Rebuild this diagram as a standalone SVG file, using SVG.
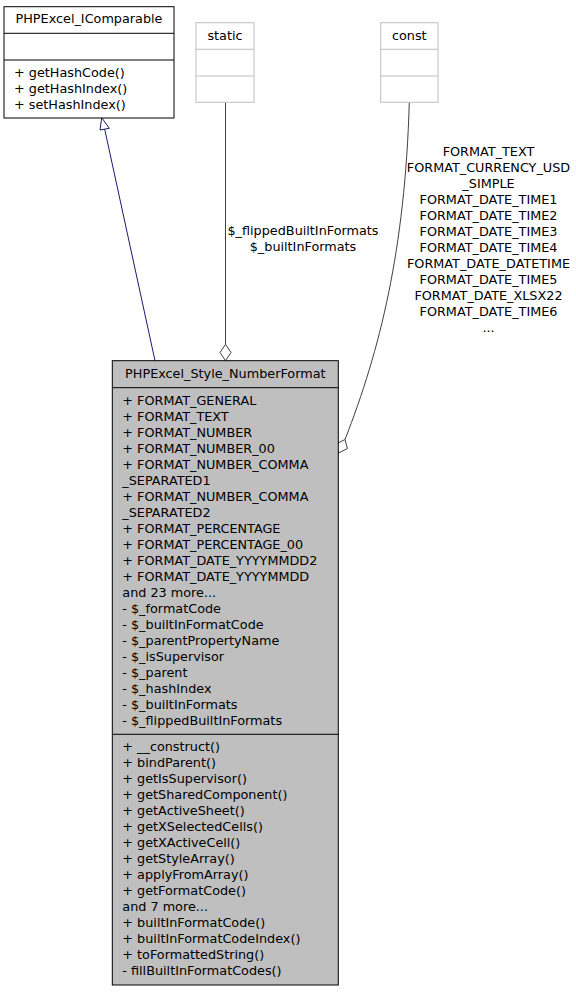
<svg xmlns="http://www.w3.org/2000/svg" width="576" height="992" viewBox="0 0 576 992">
<style>
text{font-family:"DejaVu Sans","Liberation Sans",sans-serif;font-size:12.8px;fill:#000}
.c{text-anchor:middle}
.box{fill:#fff;stroke:#000;stroke-width:1}
.gbox{fill:#fff;stroke:#bfbfbf;stroke-width:1}
.main{fill:#bfbfbf;stroke:#000;stroke-width:1}
.ln{fill:none;stroke:#000;stroke-width:1}
.gln{fill:none;stroke:#bfbfbf;stroke-width:1}
.edge{fill:none;stroke:#404040;stroke-width:1}
</style>
<rect width="576" height="992" fill="#fff"/>
<g id="connectors">
  <g id="inherit">
    <path d="M155,360.7 L104.7,129.2" fill="none" stroke="#191970" stroke-width="1"/>
    <polygon points="101.7,117.7 100,130 109.3,128.3" fill="#fff" stroke="#191970" stroke-width="1"/>
  </g>
  <g id="static-edge">
    <path class="edge" d="M225.5,102.3 L225.5,344.3"/>
    <polygon points="225.5,344.3 220,352.5 225.5,360.7 231,352.5" fill="#fff" stroke="#404040" stroke-width="1"/>
    <text class="c" x="303" y="235">$_flippedBuiltInFormats</text>
    <text class="c" x="303" y="251">$_builtInFormats</text>
  </g>
  <g id="const-edge">
    <path class="edge" d="M409.3,102.3 C405,250 380,350 345,439.5"/>
    <polygon points="345,439.5 336,444 338.4,453 347.4,448.6" fill="#fff" stroke="#404040" stroke-width="1"/>
    <text class="c" x="488.5" y="155.5">FORMAT_TEXT</text>
    <text class="c" x="488.5" y="171.5">FORMAT_CURRENCY_USD</text>
    <text class="c" x="488.5" y="187.5">_SIMPLE</text>
    <text class="c" x="488.5" y="203.5">FORMAT_DATE_TIME1</text>
    <text class="c" x="488.5" y="219.5">FORMAT_DATE_TIME2</text>
    <text class="c" x="488.5" y="235.5">FORMAT_DATE_TIME3</text>
    <text class="c" x="488.5" y="251.5">FORMAT_DATE_TIME4</text>
    <text class="c" x="488.5" y="267.5">FORMAT_DATE_DATETIME</text>
    <text class="c" x="488.5" y="283.5">FORMAT_DATE_TIME5</text>
    <text class="c" x="488.5" y="299.5">FORMAT_DATE_XLSX22</text>
    <text class="c" x="488.5" y="315.5">FORMAT_DATE_TIME6</text>
    <text class="c" x="488.5" y="331.5">...</text>
  </g>
</g>
<g id="PHPExcel_IComparable">
  <rect class="box" x="4" y="6.7" width="170" height="111.3"/>
  <path class="ln" d="M4,33.3 H174 M4,60 H174"/>
  <text class="c" x="89" y="23.3">PHPExcel_IComparable</text>
  <text x="14" y="76.5">+ getHashCode()</text>
  <text x="14" y="92.5">+ getHashIndex()</text>
  <text x="14" y="108.5">+ setHashIndex()</text>
</g>
<g id="static">
  <rect class="gbox" x="196" y="22.7" width="58" height="79.6"/>
  <path class="gln" d="M196,49.3 H254 M196,76 H254"/>
  <text class="c" x="225" y="39.5">static</text>
</g>
<g id="const">
  <rect class="gbox" x="380.7" y="22.7" width="57.3" height="79.6"/>
  <path class="gln" d="M380.7,49.3 H438 M380.7,76 H438"/>
  <text class="c" x="409.3" y="39.5">const</text>
</g>
<g id="PHPExcel_Style_NumberFormat">
  <rect class="main" x="112.3" y="360.7" width="226" height="624.3"/>
  <path class="ln" d="M112.3,387.7 H338.3 M112.3,734.3 H338.3"/>
  <text class="c" x="225.3" y="378">PHPExcel_Style_NumberFormat</text>
  <text x="122.3" y="404.5">+ FORMAT_GENERAL</text>
  <text x="122.3" y="420.5">+ FORMAT_TEXT</text>
  <text x="122.3" y="436.5">+ FORMAT_NUMBER</text>
  <text x="122.3" y="452.5">+ FORMAT_NUMBER_00</text>
  <text x="122.3" y="468.5">+ FORMAT_NUMBER_COMMA</text>
  <text x="122.3" y="484.5">_SEPARATED1</text>
  <text x="122.3" y="500.5">+ FORMAT_NUMBER_COMMA</text>
  <text x="122.3" y="516.5">_SEPARATED2</text>
  <text x="122.3" y="532.5">+ FORMAT_PERCENTAGE</text>
  <text x="122.3" y="548.5">+ FORMAT_PERCENTAGE_00</text>
  <text x="122.3" y="564.5">+ FORMAT_DATE_YYYYMMDD2</text>
  <text x="122.3" y="580.5">+ FORMAT_DATE_YYYYMMDD</text>
  <text x="122.3" y="596.5">and 23 more...</text>
  <text x="122.3" y="612.5">- $_formatCode</text>
  <text x="122.3" y="628.5">- $_builtInFormatCode</text>
  <text x="122.3" y="644.5">- $_parentPropertyName</text>
  <text x="122.3" y="660.5">- $_isSupervisor</text>
  <text x="122.3" y="676.5">- $_parent</text>
  <text x="122.3" y="692.5">- $_hashIndex</text>
  <text x="122.3" y="708.5">- $_builtInFormats</text>
  <text x="122.3" y="724.5">- $_flippedBuiltInFormats</text>
  <text x="122.3" y="750.5">+ __construct()</text>
  <text x="122.3" y="766.5">+ bindParent()</text>
  <text x="122.3" y="782.5">+ getIsSupervisor()</text>
  <text x="122.3" y="798.5">+ getSharedComponent()</text>
  <text x="122.3" y="814.5">+ getActiveSheet()</text>
  <text x="122.3" y="830.5">+ getXSelectedCells()</text>
  <text x="122.3" y="846.5">+ getXActiveCell()</text>
  <text x="122.3" y="862.5">+ getStyleArray()</text>
  <text x="122.3" y="878.5">+ applyFromArray()</text>
  <text x="122.3" y="894.5">+ getFormatCode()</text>
  <text x="122.3" y="910.5">and 7 more...</text>
  <text x="122.3" y="926.5">+ builtInFormatCode()</text>
  <text x="122.3" y="942.5">+ builtInFormatCodeIndex()</text>
  <text x="122.3" y="958.5">+ toFormattedString()</text>
  <text x="122.3" y="974.5">- fillBuiltInFormatCodes()</text>
</g>
</svg>
